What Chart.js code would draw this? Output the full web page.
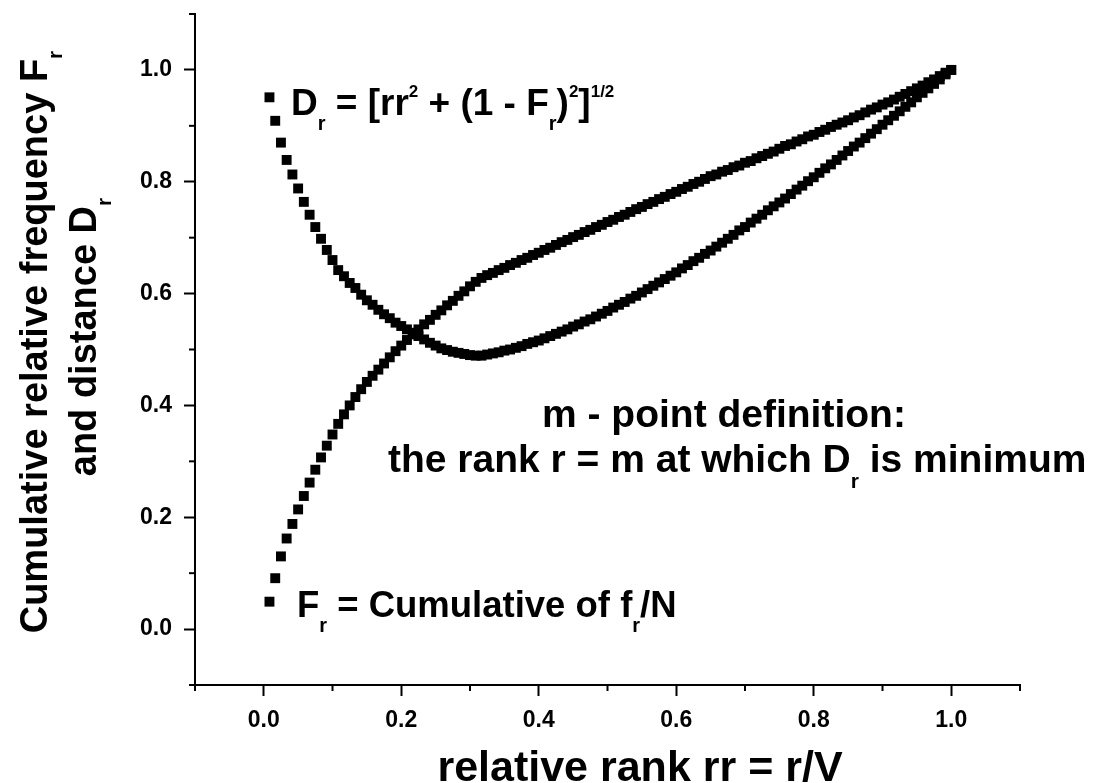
<!DOCTYPE html>
<html>
<head>
<meta charset="utf-8">
<script src="https://cdn.jsdelivr.net/npm/chart.js@4.4.1/dist/chart.umd.min.js"></script>
<style>
  html, body { margin: 0; padding: 0; background: #fff; }
  canvas { display: block; }
</style>
</head>
<body>
<canvas id="myChart" width="1093" height="783"></canvas>
<script>
// relative rank rr = r/V
const rr = [
  0.0083, 0.0167, 0.025, 0.0333, 0.0417, 0.05, 0.0583, 0.0667, 0.075, 0.0833,
  0.0917, 0.1, 0.1083, 0.1167, 0.125, 0.1333, 0.1417, 0.15, 0.1583, 0.1667,
  0.175, 0.1833, 0.1917, 0.2, 0.2083, 0.2167, 0.225, 0.2333, 0.2417, 0.25,
  0.2583, 0.2667, 0.275, 0.2833, 0.2917, 0.3, 0.3083, 0.3167, 0.325, 0.3333,
  0.3417, 0.35, 0.3583, 0.3667, 0.375, 0.3833, 0.3917, 0.4, 0.4083, 0.4167,
  0.425, 0.4333, 0.4417, 0.45, 0.4583, 0.4667, 0.475, 0.4833, 0.4917, 0.5,
  0.5083, 0.5167, 0.525, 0.5333, 0.5417, 0.55, 0.5583, 0.5667, 0.575, 0.5833,
  0.5917, 0.6, 0.6083, 0.6167, 0.625, 0.6333, 0.6417, 0.65, 0.6583, 0.6667,
  0.675, 0.6833, 0.6917, 0.7, 0.7083, 0.7167, 0.725, 0.7333, 0.7417, 0.75,
  0.7583, 0.7667, 0.775, 0.7833, 0.7917, 0.8, 0.8083, 0.8167, 0.825, 0.8333,
  0.8417, 0.85, 0.8583, 0.8667, 0.875, 0.8833, 0.8917, 0.9, 0.9083, 0.9167,
  0.925, 0.9333, 0.9417, 0.95, 0.9583, 0.9667, 0.975, 0.9833, 0.9917, 1.0
];

// cumulative relative frequency F_r
const Fr = [
  0.049, 0.091, 0.130, 0.162, 0.188, 0.214, 0.238, 0.262, 0.285, 0.307,
  0.328, 0.348, 0.367, 0.384, 0.400, 0.415, 0.429, 0.442, 0.453, 0.464,
  0.475, 0.486, 0.497, 0.507, 0.517, 0.527, 0.536, 0.545, 0.553, 0.562,
  0.570, 0.579, 0.587, 0.596, 0.604, 0.613, 0.621, 0.628, 0.633, 0.637,
  0.642, 0.646, 0.651, 0.655, 0.660, 0.664, 0.669, 0.673, 0.678, 0.682,
  0.687, 0.692, 0.696, 0.701, 0.705, 0.710, 0.714, 0.719, 0.723, 0.728,
  0.732, 0.737, 0.741, 0.746, 0.751, 0.755, 0.760, 0.764, 0.769, 0.773,
  0.778, 0.782, 0.787, 0.791, 0.796, 0.800, 0.805, 0.810, 0.813, 0.818,
  0.821, 0.826, 0.829, 0.834, 0.837, 0.842, 0.846, 0.850, 0.854, 0.859,
  0.864, 0.867, 0.872, 0.876, 0.881, 0.884, 0.889, 0.893, 0.898, 0.902,
  0.906, 0.910, 0.915, 0.919, 0.924, 0.929, 0.933, 0.938, 0.942, 0.947,
  0.952, 0.957, 0.962, 0.967, 0.972, 0.978, 0.983, 0.989, 0.995, 1.000
];

// distance D_r
const Dr = [
  0.951, 0.909, 0.870, 0.839, 0.813, 0.788, 0.764, 0.741, 0.719, 0.698,
  0.678, 0.660, 0.642, 0.631, 0.619, 0.610, 0.598, 0.588, 0.580, 0.571,
  0.563, 0.556, 0.548, 0.542, 0.536, 0.530, 0.524, 0.518, 0.512, 0.507,
  0.502, 0.499, 0.496, 0.494, 0.492, 0.490, 0.489, 0.489, 0.491, 0.493,
  0.495, 0.498, 0.500, 0.503, 0.506, 0.510, 0.513, 0.516, 0.520, 0.524,
  0.528, 0.532, 0.536, 0.541, 0.545, 0.550, 0.554, 0.559, 0.564, 0.569,
  0.575, 0.580, 0.585, 0.591, 0.596, 0.602, 0.608, 0.614, 0.620, 0.626,
  0.632, 0.638, 0.645, 0.651, 0.658, 0.664, 0.671, 0.677, 0.684, 0.691,
  0.698, 0.705, 0.713, 0.719, 0.727, 0.734, 0.741, 0.749, 0.756, 0.763,
  0.770, 0.778, 0.786, 0.793, 0.801, 0.808, 0.816, 0.824, 0.831, 0.839,
  0.847, 0.855, 0.863, 0.870, 0.878, 0.886, 0.894, 0.902, 0.910, 0.918,
  0.926, 0.934, 0.942, 0.951, 0.959, 0.967, 0.975, 0.983, 0.992, 1.000
];

// ticks (major ones carry a label, the others are minor)
const xTicks = [-0.1, 0.0, 0.1, 0.2, 0.3, 0.4, 0.5, 0.6, 0.7, 0.8, 0.9, 1.0, 1.1];
const xLabels = ['', '0.0', '', '0.2', '', '0.4', '', '0.6', '', '0.8', '', '1.0', ''];
const yTicks = [-0.1, 0.0, 0.1, 0.2, 0.3, 0.4, 0.5, 0.6, 0.7, 0.8, 0.9, 1.0, 1.1];
const yLabels = ['', '0.0', '', '0.2', '', '0.4', '', '0.6', '', '0.8', '', '1.0', ''];

const FONT = "'Liberation Sans', Arial, Helvetica, sans-serif";

// draws text with subscripts / superscripts, parts = [[text, 'sub'|'sup'|''], ...]
function drawRich(ctx, parts, x, y, size, align) {
  const fontFor = m => 'bold ' + (m ? Math.round(size * (m === 'sub' ? 0.55 : 0.45)) : size) + 'px ' + FONT;
  let total = 0;
  parts.forEach(p => { ctx.font = fontFor(p[1]); total += ctx.measureText(p[0]).width; });
  let cx = align === 'center' ? x - total / 2 : x;
  ctx.textAlign = 'left';
  ctx.textBaseline = 'alphabetic';
  ctx.fillStyle = '#000';
  parts.forEach(p => {
    ctx.font = fontFor(p[1]);
    let dy = 0;
    if (p[1] === 'sub') dy = size * 0.4;
    if (p[1] === 'sup') dy = -size * 0.5;
    ctx.fillText(p[0], cx, y + dy);
    cx += ctx.measureText(p[0]).width;
  });
}

const minorTicks = {
  id: 'minorTicks',
  afterDraw(chart) {
    const c = chart.ctx;
    const area = chart.chartArea;
    c.save();
    c.strokeStyle = '#000';
    c.lineWidth = 2;
    xTicks.forEach((v, i) => {
      if (xLabels[i] !== '') return;
      const px = chart.scales.x.getPixelForValue(v);
      c.beginPath(); c.moveTo(px, area.bottom); c.lineTo(px, area.bottom + 6); c.stroke();
    });
    yTicks.forEach((v, i) => {
      if (yLabels[i] !== '') return;
      const py = chart.scales.y.getPixelForValue(v);
      c.beginPath(); c.moveTo(area.left, py); c.lineTo(area.left - 6, py); c.stroke();
    });
    c.restore();
  }
};

const annotations = {
  id: 'annotations',
  afterDraw(chart) {
    const c = chart.ctx;
    c.save();
    drawRich(c, [['D', ''], ['r', 'sub'], [' = [rr', ''], ['2', 'sup'], [' + (1 - F', ''], ['r', 'sub'],
      [')', ''], ['2', 'sup'], [']', ''], ['1/2', 'sup']], 291, 115, 37, 'left');
    drawRich(c, [['F', ''], ['r', 'sub'], [' = Cumulative of f', ''], ['r', 'sub'], ['/N', '']], 297, 617, 36.5, 'left');
    drawRich(c, [['m - point definition:', '']], 542, 427, 39, 'left');
    drawRich(c, [['the rank r = m at which D', ''], ['r', 'sub'], [' is minimum', '']], 388, 472, 39, 'left');
    // axis titles
    drawRich(c, [['relative rank rr = r/V', '']], 640, 781, 43, 'center');
    c.save();
    c.translate(47, 342);
    c.rotate(-Math.PI / 2);
    drawRich(c, [['Cumulative relative frequency F', ''], ['r', 'sub']], 0, 0, 38, 'center');
    c.restore();
    c.save();
    c.translate(96, 337);
    c.rotate(-Math.PI / 2);
    drawRich(c, [['and distance D', ''], ['r', 'sub']], 0, 0, 38, 'center');
    c.restore();
    c.restore();
  }
};

const tickFont = { family: FONT, size: 23, weight: 'bold' };

// the axis box is fixed: no extra room for the (empty) end labels
function noPad(s) {
  s.paddingTop = 0;
  s.paddingBottom = 0;
  s.paddingLeft = 0;
  s.paddingRight = 0;
}

const ctx = document.getElementById('myChart').getContext('2d');
new Chart(ctx, {
  type: 'scatter',
  data: {
    datasets: [
      {
        label: 'F_r',
        data: rr.map((x, i) => ({ x: x, y: Fr[i] })),
        pointStyle: 'rect',
        pointRadius: 7,
        backgroundColor: '#000',
        borderWidth: 0
      },
      {
        label: 'D_r',
        data: rr.map((x, i) => ({ x: x, y: Dr[i] })),
        pointStyle: 'rect',
        pointRadius: 7,
        backgroundColor: '#000',
        borderWidth: 0
      }
    ]
  },
  options: {
    responsive: false,
    animation: false,
    layout: { padding: { top: 14, right: 73, left: 0, bottom: 0 } },
    plugins: { legend: { display: false }, tooltip: { enabled: false } },
    scales: {
      x: {
        type: 'linear',
        min: -0.1,
        max: 1.1,
        afterBuildTicks: s => { s.ticks = xTicks.map(v => ({ value: v })); },
        afterFit: s => { s.height = 98; noPad(s); },
        ticks: {
          autoSkip: false,
          maxRotation: 0,
          padding: 11,
          color: '#000',
          font: tickFont,
          callback: (v, i) => xLabels[i]
        },
        grid: {
          drawOnChartArea: false,
          drawTicks: true,
          tickLength: 11,
          tickWidth: 2,
          tickColor: c => (xLabels[c.index] ? '#000' : 'rgba(0,0,0,0)')
        },
        border: { display: true, color: '#000', width: 2 }
      },
      y: {
        type: 'linear',
        min: -0.1,
        max: 1.1,
        afterBuildTicks: s => { s.ticks = yTicks.map(v => ({ value: v })); },
        afterFit: s => { s.width = 195; noPad(s); },
        ticks: {
          autoSkip: false,
          padding: 12,
          color: '#000',
          font: tickFont,
          callback: (v, i) => yLabels[i]
        },
        grid: {
          drawOnChartArea: false,
          drawTicks: true,
          tickLength: 11,
          tickWidth: 2,
          tickColor: c => (yLabels[c.index] ? '#000' : 'rgba(0,0,0,0)')
        },
        border: { display: true, color: '#000', width: 2 }
      }
    }
  },
  plugins: [minorTicks, annotations]
});
</script>
</body>
</html>
